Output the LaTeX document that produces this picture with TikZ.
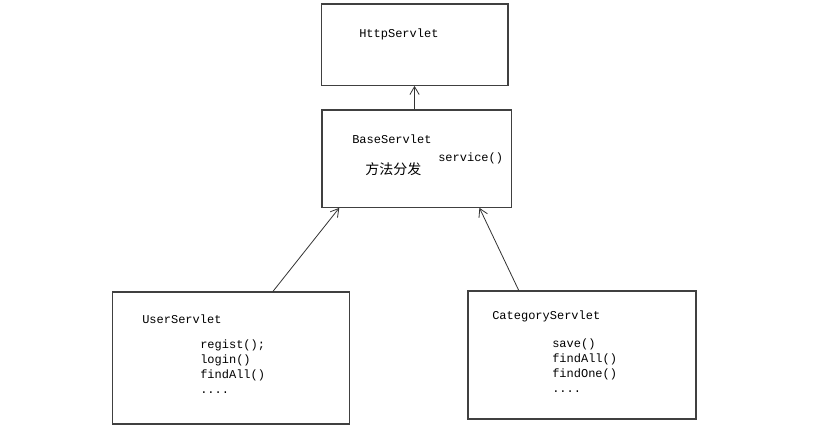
\documentclass[tikz,border=0pt]{standalone}
\usepackage{fontspec}
\setmonofont{Liberation Mono}
\newfontfamily\cjk{Noto Sans CJK SC}
\usetikzlibrary{arrows.meta,calc}

\begin{document}
\begin{tikzpicture}[x=0.75pt,y=-0.75pt,
    >={Straight Barb[length=6pt,width=7pt]},
    box/.style={%
      rectangle, draw=black!75, line width=1pt, fill=white,
      inner sep=0pt
    },
    lbl/.style={%
      inner sep=0pt, anchor=west, font=\ttfamily\fontsize{9}{11.25}\selectfont
    },
    meth/.style={%
      inner sep=0pt, anchor=north west, align=left,
      font=\ttfamily\fontsize{9}{11.25}\selectfont
    },
    arr/.style={->, draw=black!80, line width=0.6pt}
]
    \useasboundingbox (0,0) rectangle (825,446);

    % boxes
    \node[box, minimum width=140pt, minimum height=61pt]  (http) at (414.5,44.5) {};
    \node[box, minimum width=142pt, minimum height=73pt]  (base) at (416.5,158.5) {};
    \node[box, minimum width=178pt, minimum height=99pt]  (user) at (231,358) {};
    \node[box, minimum width=171pt, minimum height=96pt]  (cat)  at (582,355) {};

    % texts
    \node[lbl] (httpname) at (359,34)  {HttpServlet};
    \node[lbl] (basename) at (352,139) {BaseServlet};
    \node[lbl, font=\cjk\fontsize{10.5}{12}\selectfont] (dispatch) at (365,169) {方法分发};
    \node[lbl] (service)  at (438,158) {service()};
    \node[lbl] (username) at (142,319) {UserServlet};
    \node[meth] (usermeth) at (200,340) {regist();\\login()\\findAll()\\....};
    \node[lbl] (catname)  at (492,316) {CategoryServlet};
    \node[meth] (catmeth)  at (552,339) {save()\\findAll()\\findOne()\\....};

    % inheritance
    \draw[arr] ($(base.north west)!0.49!(base.north east)$)
            -- ($(http.south west)!0.50!(http.south east)$);
    \draw[arr] ($(user.north west)!0.676!(user.north east)$)
            -- ($(base.south west)!0.095!(base.south east)$);
    \draw[arr] ($(cat.north west)!0.224!(cat.north east)$)
            -- ($(base.south west)!0.83!(base.south east)$);

\end{tikzpicture}
\end{document}
